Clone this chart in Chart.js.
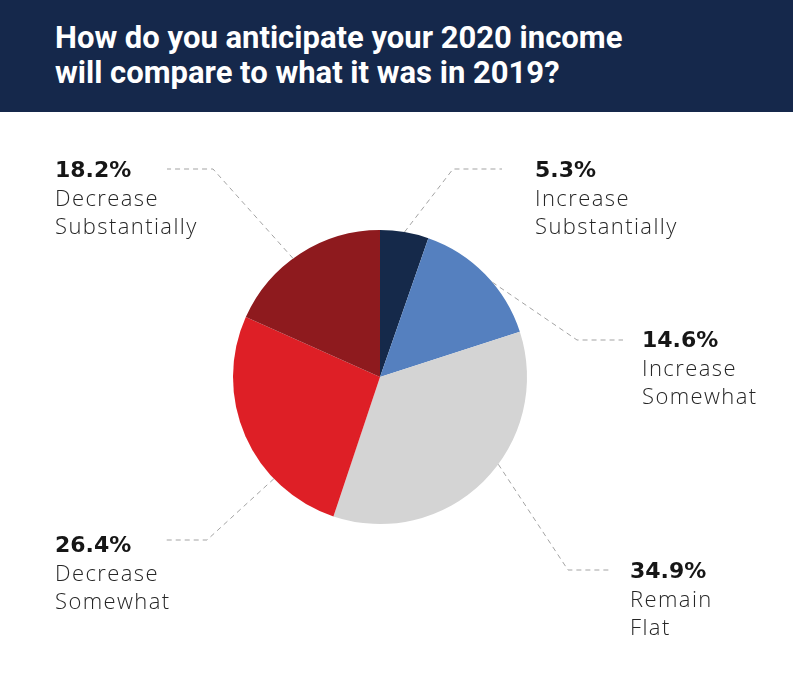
<!DOCTYPE html>
<html>
<head>
<meta charset="utf-8">
<script src="https://cdn.jsdelivr.net/npm/chart.js@4"></script>
<style>
  html, body { margin: 0; padding: 0; background: #fff; }
  #wrap { position: relative; width: 793px; height: 694px; overflow: hidden; }
  #banner {
    position: absolute; left: 0; top: 0; width: 793px; height: 112px;
    background: #15284b; z-index: 2;
  }
  #title {
    position: absolute; left: 55px; top: 20px; margin: 0;
    font-family: "Roboto", sans-serif;
    font-weight: bold; font-size: 31px; line-height: 35px; color: #fff;
  }
  #pie { position: absolute; left: 0; top: 0; }
</style>
</head>
<body>
<div id="wrap">
  <div id="banner">
    <h1 id="title">How do you anticipate your 2020 income<br>will compare to what it was in 2019?</h1>
  </div>
  <canvas id="pie" width="793" height="694"></canvas>
</div>
<script>
const categories = ['Increase Substantially', 'Increase Somewhat', 'Remain Flat', 'Decrease Somewhat', 'Decrease Substantially'];
const shares = [5.3, 14.6, 34.9, 26.4, 18.2];
const labelLines = [
  ['Increase', 'Substantially'],
  ['Increase', 'Somewhat'],
  ['Remain', 'Flat'],
  ['Decrease', 'Somewhat'],
  ['Decrease', 'Substantially']
];
const sliceColors = ['#15294a', '#5580bf', '#d4d4d4', '#de1f26', '#8e1a1e'];

// where each leader line leaves its slice (fraction of the slice angle),
// its elbow, the end of the flat part and the text anchor
const leaderLayout = [
  { frac: 0.50, elbow: [453, 169], end: 502, textX: 535, textY: 177 },
  { frac: 0.58, elbow: [577, 340], end: 623, textX: 642, textY: 347 },
  { frac: 0.43, elbow: [568, 570], end: 612, textX: 630, textY: 578 },
  { frac: 0.29, elbow: [207, 540], end: 165, textX: 55, textY: 552 },
  { frac: 0.45, elbow: [213, 169], end: 167, textX: 55, textY: 177 }
];

const pctFont = 'bold 22px "DejaVu Sans", sans-serif';
const descFont = '300 22px "Open Sans", sans-serif';

const leaderLabels = {
  id: 'leaderLabels',
  afterDatasetsDraw(chart) {
    const ctx = chart.ctx;
    const meta = chart.getDatasetMeta(0);

    // the original uses a wider light face; open the spacing a little
    // so "Decrease" (~97px) and "Substantially" (~147px) come out close
    ctx.save();
    ctx.font = descFont;
    const wD = ctx.measureText('Decrease').width;
    const wS = ctx.measureText('Substantially').width;
    const spacing = Math.max(0, ((97 - wD) * 8 + (147 - wS) * 13) / (64 + 169));
    ctx.restore();

    meta.data.forEach(function(arc, i) {
      const p = arc.getProps(['x', 'y', 'startAngle', 'endAngle', 'outerRadius'], true);
      const lay = leaderLayout[i];
      const a = p.startAngle + lay.frac * (p.endAngle - p.startAngle);
      const ax = p.x + Math.cos(a) * p.outerRadius;
      const ay = p.y + Math.sin(a) * p.outerRadius;

      ctx.save();
      ctx.strokeStyle = '#a3a3a3';
      ctx.lineWidth = 1;
      ctx.setLineDash([5, 4]);
      ctx.beginPath();
      ctx.moveTo(ax, ay);
      ctx.lineTo(lay.elbow[0], lay.elbow[1]);
      ctx.lineTo(lay.end, lay.elbow[1]);
      ctx.stroke();
      ctx.setLineDash([]);

      ctx.textAlign = 'left';
      ctx.textBaseline = 'alphabetic';
      ctx.fillStyle = '#161616';
      ctx.font = pctFont;
      ctx.fillText(shares[i].toFixed(1) + '%', lay.textX, lay.textY);
      ctx.fillStyle = '#262626';
      ctx.font = descFont;
      ctx.letterSpacing = spacing.toFixed(2) + 'px';
      labelLines[i].forEach(function(line, j) {
        ctx.fillText(line, lay.textX, lay.textY + 29 * (j + 1) - (j ? 1 : 0));
      });
      ctx.restore();
    });
  }
};

new Chart(document.getElementById('pie').getContext('2d'), {
  type: 'pie',
  data: {
    labels: categories,
    datasets: [{
      data: shares,
      backgroundColor: sliceColors,
      borderWidth: 0,
      hoverOffset: 0
    }]
  },
  options: {
    responsive: false,
    animation: false,
    layout: { padding: { left: 233, right: 266, top: 230, bottom: 170 } },
    plugins: {
      legend: { display: false },
      tooltip: { enabled: false }
    }
  },
  plugins: [leaderLabels]
});
</script>
</body>
</html>
